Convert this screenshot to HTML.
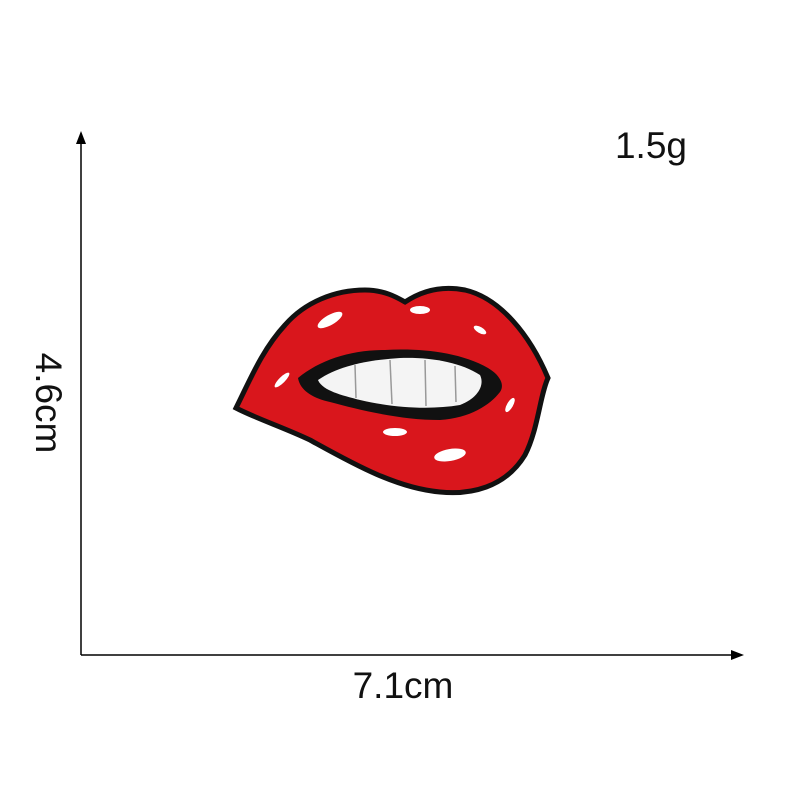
<!DOCTYPE html>
<html><head><meta charset="utf-8"><style>
html,body{margin:0;padding:0;background:#fff;}
svg{display:block;}
text{font-family:"Liberation Sans",sans-serif;fill:#111;}
</style></head><body>
<svg width="800" height="800" viewBox="0 0 800 800">
  <g>
    <line x1="81" y1="140" x2="81" y2="655" stroke="#000" stroke-width="1.5"/>
    <polygon points="81,131 76,144 86,144" fill="#000"/>
  </g>
  <g>
    <line x1="81" y1="655" x2="736" y2="655" stroke="#000" stroke-width="1.5"/>
    <polygon points="744,655 731,650 731,660" fill="#000"/>
  </g>
  <text x="651" y="158" font-size="37" text-anchor="middle">1.5g</text>
  <text x="403" y="698" font-size="37" text-anchor="middle">7.1cm</text>
  <text x="0" y="0" font-size="37" text-anchor="middle" transform="translate(36,403) rotate(90)">4.6cm</text>

  <g>
    <path d="M236,408 C250,380 262,350 285,325 C305,302 335,290 365,290 C385,290 398,298 405,302 C420,292 440,285 465,290 C500,298 530,335 548,378 C540,395 538,430 525,455 C505,488 470,495 440,492 C395,488 350,462 310,440 C285,428 255,418 236,408 Z" fill="#d9161c" stroke="#111" stroke-width="5"/>
    <path d="M298,378 C320,360 350,350 385,350 C420,348 460,352 488,368 C500,375 505,385 500,392 C490,405 470,418 440,420 C400,420 360,410 330,402 C312,398 300,390 298,378 Z" fill="#111"/>
    <path d="M318,380 C340,365 370,360 400,358 C430,357 460,362 480,375 C485,385 478,398 460,405 C430,410 395,408 360,400 C340,395 322,390 318,380 Z" fill="#f4f4f4"/>
    <g stroke="#999" stroke-width="1.5">
      <line x1="355" y1="365" x2="356" y2="398"/>
      <line x1="390" y1="360" x2="392" y2="404"/>
      <line x1="425" y1="360" x2="426" y2="406"/>
      <line x1="455" y1="366" x2="456" y2="402"/>
    </g>
    <g fill="#fff">
      <ellipse cx="330" cy="320" rx="14" ry="5" transform="rotate(-30 330 320)"/>
      <ellipse cx="420" cy="310" rx="10" ry="4"/>
      <ellipse cx="480" cy="330" rx="7" ry="3" transform="rotate(30 480 330)"/>
      <ellipse cx="282" cy="380" rx="10" ry="3" transform="rotate(-45 282 380)"/>
      <ellipse cx="450" cy="455" rx="16" ry="6" transform="rotate(-10 450 455)"/>
      <ellipse cx="510" cy="405" rx="8" ry="3" transform="rotate(-60 510 405)"/>
      <ellipse cx="395" cy="432" rx="12" ry="4"/>
    </g>
  </g>
</svg>
</body></html>
